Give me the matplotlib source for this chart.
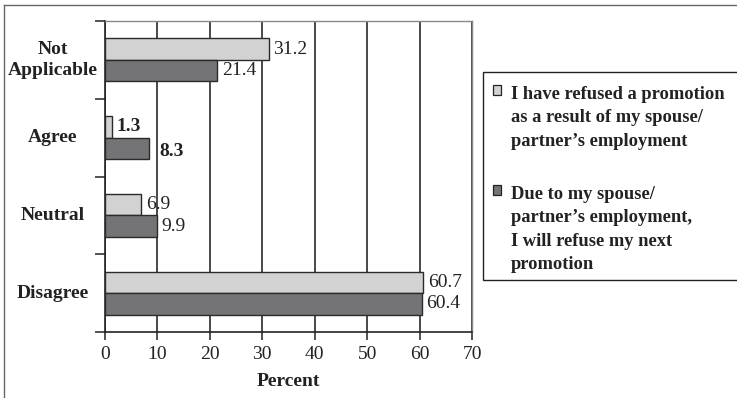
import matplotlib
matplotlib.use("Agg")
import matplotlib.pyplot as plt
from matplotlib.patches import Rectangle
from matplotlib.lines import Line2D
import matplotlib.transforms as mtransforms
import numpy as np

plt.rcParams['font.family'] = ['Liberation Serif', 'DejaVu Serif']

categories = ["Not\nApplicable", "Agree", "Neutral", "Disagree"]
refused = [31.2, 1.3, 6.9, 60.7]
will_refuse = [21.4, 8.3, 9.9, 60.4]
bold_labels = [False, True, False, False]
series_names = ["I have refused a promotion\nas a result of my spouse/\npartner\u2019s employment",
                "Due to my spouse/\npartner\u2019s employment,\nI will refuse my next\npromotion"]
xticks = [0, 10, 20, 30, 40, 50, 60, 70]

light = "#d2d2d2"
dark = "#747477"
edge = "#2a2a2a"
FS = 14
LFS = 13.3

W, H = 737, 398
fig = plt.figure(figsize=(W / 100, H / 100), dpi=100)
ax = fig.add_axes([105 / W, 1 - 332 / H, (472 - 105) / W, (332 - 21) / H])

n = len(categories)
ypos = np.arange(n)[::-1].astype(float)  # top category first
h = 0.277
ax.barh(ypos + h / 2, refused, height=h, color=light, edgecolor=edge, linewidth=1.0, zorder=3)
ax.barh(ypos - h / 2, will_refuse, height=h, color=dark, edgecolor=edge, linewidth=1.0, zorder=3)

for y, v1, v2, b in zip(ypos, refused, will_refuse, bold_labels):
    fw = 'bold' if b else 'normal'
    ax.text(v1 + 0.9, y + h / 2, f"{v1}", va='center', ha='left', fontsize=FS, fontweight=fw, color='#222')
    dy = -0.04 if b else 0
    dx = 2.0 if b else 0.9
    ax.text(v2 + dx, y - h / 2 + dy, f"{v2}", va='center', ha='left', fontsize=FS, fontweight=fw, color='#222')

ax.set_xlim(0, 70)
ax.set_ylim(-0.5, n - 0.5)
ax.set_xticks(xticks)
ax.set_xticklabels([str(t) for t in xticks], fontsize=FS, color='#222')
ax.set_yticks(np.arange(n + 1) - 0.5)
ax.set_yticklabels([])
ax.tick_params(axis='y', direction='out', length=7, width=1.1, color='#222')
ax.tick_params(axis='x', direction='out', length=6, width=1.1, color='#222', pad=4)
ax.xaxis.grid(True, color='#2a2a2a', linewidth=1.2, zorder=1)
ax.set_axisbelow(True)
for s in ['left', 'bottom']:
    ax.spines[s].set_color('#222')
    ax.spines[s].set_linewidth(1.2)
for s in ['top', 'right']:
    ax.spines[s].set_color('#888')
    ax.spines[s].set_linewidth(1.0)
ax.set_xlabel("Percent", fontsize=FS, fontweight='bold', color='#222', labelpad=7)

trans = mtransforms.blended_transform_factory(fig.transFigure, ax.transData)
for y, c in zip(ypos, categories):
    ax.text(53 / W, y, c, transform=trans, ha='center', va='center', fontsize=FS,
            fontweight='bold', color='#222', multialignment='center', linespacing=1.3)

# figure frame (top and left)
fig.add_artist(Line2D([4 / W, 1], [1 - 5 / H, 1 - 5 / H], transform=fig.transFigure, color='#666', lw=1.0))
fig.add_artist(Line2D([4 / W, 4 / W], [0, 1 - 5 / H], transform=fig.transFigure, color='#666', lw=1.0))

# legend box
fig.add_artist(Rectangle((483 / W, 1 - 280 / H), (745 - 483) / W, (280 - 72) / H,
                         transform=fig.transFigure, facecolor='white', edgecolor='#222', lw=1.0))
for (cy_marker, cy_text, col, name) in [(90, 118, light, series_names[0]), (190, 229.5, dark, series_names[1])]:
    fig.add_artist(Rectangle((492.5 / W, 1 - (cy_marker + 4.5) / H), 9 / W, 9 / H,
                             transform=fig.transFigure, facecolor=col, edgecolor='#222', lw=0.9))
    fig.text(511 / W, 1 - cy_text / H, name, ha='left', va='center', fontsize=LFS,
             fontweight='bold', color='#222', linespacing=1.48)

fig.savefig("out.png", dpi=100)
